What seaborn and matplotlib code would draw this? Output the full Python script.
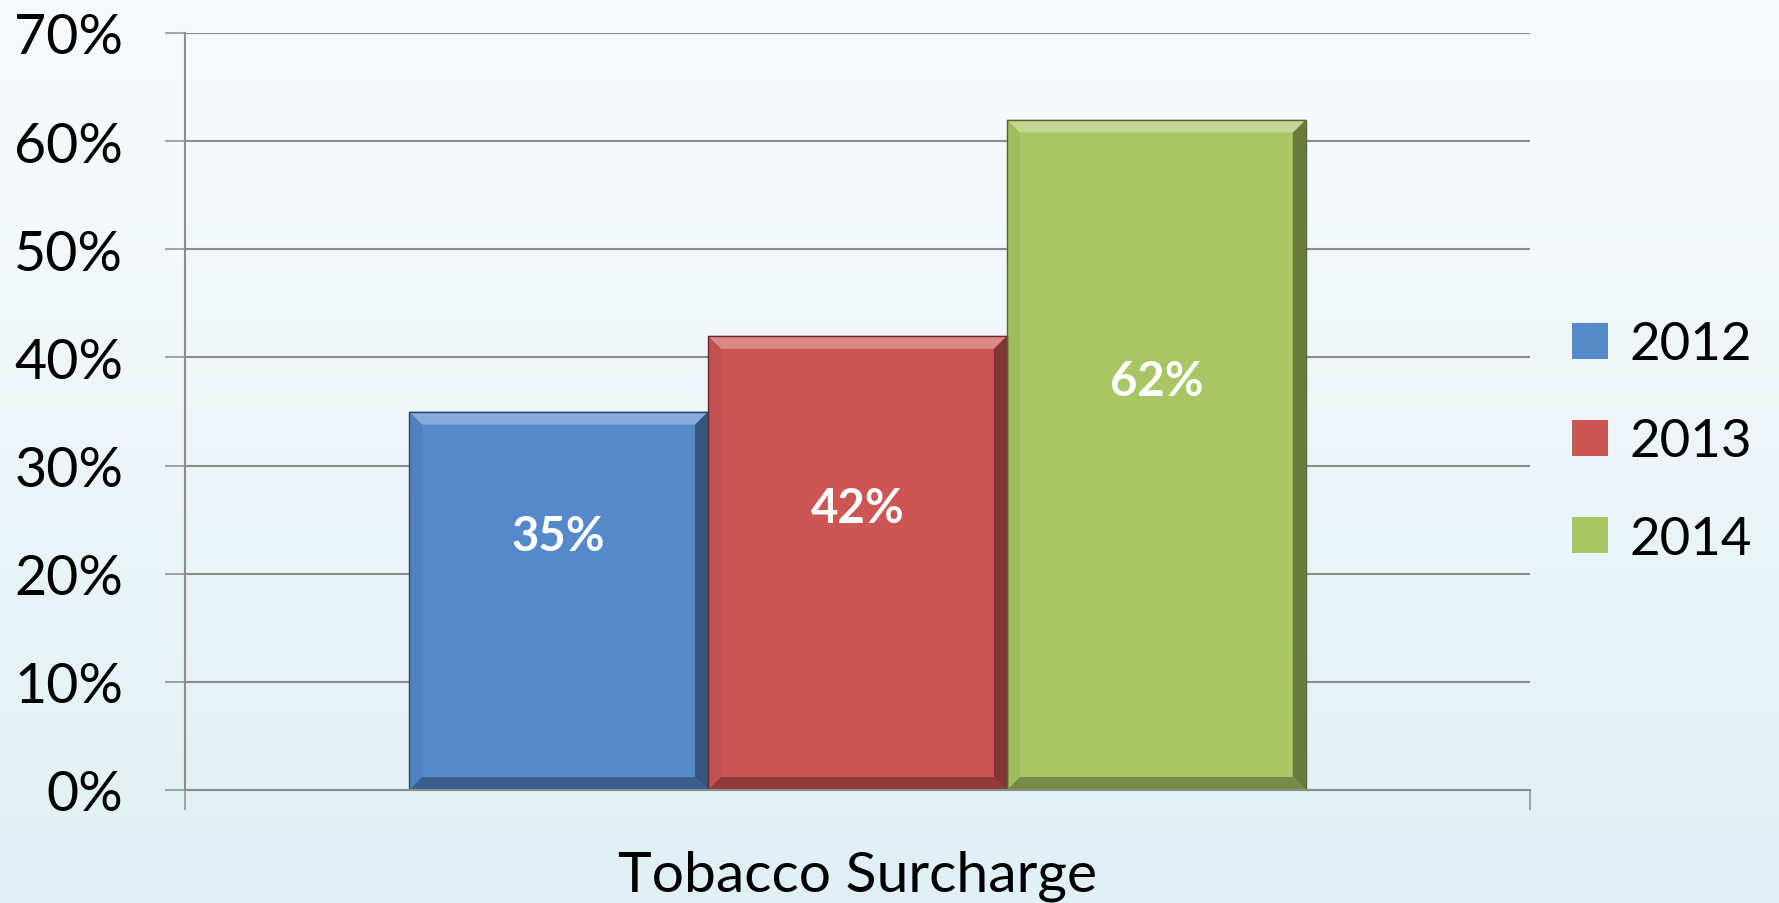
import numpy as np
import pandas as pd
import matplotlib
matplotlib.use("Agg")
import matplotlib.pyplot as plt
from matplotlib.patches import Polygon, Patch
import matplotlib.colors as mcolors
import seaborn as sns

# ---- data ----
category = ["Tobacco Surcharge"]
years = ["2012", "2013", "2014"]
values = [0.35, 0.42, 0.62]
value_labels = ["35%", "42%", "62%"]
label_frac = [0.67, 0.62, 0.61]   # where each label sits, as fraction of bar height
yticks = [0.0, 0.1, 0.2, 0.3, 0.4, 0.5, 0.6, 0.7]
ytick_labels = ["0%", "10%", "20%", "30%", "40%", "50%", "60%", "70%"]
colors = ["#5589C9", "#CD5553", "#A8C664"]

df = pd.DataFrame({"cat": category * len(years), "year": years, "value": values})

sns.set_theme(style="white")
FONT = ["Lato", "DejaVu Sans"]
plt.rcParams["font.family"] = FONT
plt.rcParams["text.color"] = "black"

W, H = 1779, 904
fig = plt.figure(figsize=(W / 100, H / 100), dpi=100)

# background gradient
bg = fig.add_axes([0, 0, 1, 1], zorder=-10)
grad = np.linspace(0, 1, 256).reshape(-1, 1)
top = np.array(mcolors.to_rgb("#F8FBFD"))
bot = np.array(mcolors.to_rgb("#E0F0F6"))
img = top[None, None, :] * (1 - grad[..., None]) + bot[None, None, :] * grad[..., None]
bg.imshow(img, aspect="auto", extent=[0, 1, 0, 1], origin="upper")
bg.axis("off")

left, right, bottom, topp = 185 / W, 1530 / W, 1 - 791 / H, 1 - 34 / H
ax = fig.add_axes([left, bottom, right - left, topp - bottom])
ax.patch.set_alpha(0)

sns.barplot(data=df, x="cat", y="value", hue="year", palette=colors,
            width=2 / 3, dodge=True, ax=ax, legend=False, saturation=1,
            edgecolor="none", linewidth=0)

ax.set_ylim(0, 0.7)
ax.set_xlim(-0.5, 0.5)
GRID = "#8C8C8C"
ax.set_yticks(yticks)
ax.set_yticklabels(ytick_labels)
ax.yaxis.grid(True, color=GRID, linewidth=1.5, zorder=0)
ax.set_axisbelow(True)
for s in ["top", "right"]:
    ax.spines[s].set_visible(False)
ax.spines["left"].set_color(GRID)
ax.spines["left"].set_linewidth(1.5)
ax.spines["bottom"].set_color(GRID)
ax.spines["bottom"].set_linewidth(1.5)
ax.tick_params(axis="y", direction="out", length=14.4, width=1.1, color=GRID,
               labelsize=40, pad=30, left=True)
ax.set_xticks([0])
ax.set_xticklabels(category)
ax.set_xticks([-0.5, 0.5], minor=True)
ax.tick_params(axis="x", which="major", length=0, labelsize=41, pad=43)
ax.tick_params(axis="x", which="minor", direction="out", length=14.4, width=1.1,
               color=GRID, bottom=True)
ax.set_xlabel("")
ax.set_ylabel("")
for t in ax.get_yticklabels() + ax.get_xticklabels():
    t.set_color("black")

# bevel effect derived from the drawn bars
fig.canvas.draw()
inv = ax.transData.inverted()
bars = sorted([p for p in ax.patches if p.get_height() > 0], key=lambda p: p.get_x())
bev_px = 13


def mix(c, other, a):
    c = np.array(mcolors.to_rgb(c)); o = np.array(mcolors.to_rgb(other))
    return tuple(c * (1 - a) + o * a)


for p, col, lab, fr in zip(bars, colors, value_labels, label_frac):
    x0, y0, w, h = p.get_x(), p.get_y(), p.get_width(), p.get_height()
    (X0, Y0) = ax.transData.transform((x0, y0))
    (X1, Y1) = ax.transData.transform((x0 + w, y0 + h))
    b = bev_px
    pts = {
        "top": [(X0, Y1), (X1, Y1), (X1 - b, Y1 - b), (X0 + b, Y1 - b)],
        "bottom": [(X0, Y0), (X1, Y0), (X1 - b, Y0 + b), (X0 + b, Y0 + b)],
        "left": [(X0, Y0), (X0, Y1), (X0 + b, Y1 - b), (X0 + b, Y0 + b)],
        "right": [(X1, Y0), (X1, Y1), (X1 - b, Y1 - b), (X1 - b, Y0 + b)],
    }
    shades = {"top": mix(col, "white", 0.3), "bottom": mix(col, "black", 0.3),
              "left": mix(col, "black", 0.05), "right": mix(col, "black", 0.38)}
    for k in ["left", "right", "top", "bottom"]:
        poly = Polygon(inv.transform(pts[k]), closed=True, facecolor=shades[k],
                       edgecolor="none", zorder=p.get_zorder() + 0.5)
        ax.add_patch(poly)
    ax.add_patch(Polygon(inv.transform([(X0, Y0), (X0, Y1), (X1, Y1), (X1, Y0)]),
                         closed=True, fill=False, edgecolor=mix(col, "black", 0.5),
                         linewidth=1.0, zorder=p.get_zorder() + 0.6))
    ax.text(x0 + w / 2, y0 + h * fr, lab, ha="center", va="center", color="white",
            fontsize=34, fontweight="bold", zorder=10, family=FONT)

handles = [Patch(facecolor=c, edgecolor="none") for c in colors]
leg = fig.legend(handles, years, loc="center left", bbox_to_anchor=(1572 / W, 1 - 443 / H),
                 frameon=False, fontsize=38, handlelength=0.68, handleheight=0.68,
                 handletextpad=0.4, labelspacing=0.95, borderaxespad=0, borderpad=0)
for t in leg.get_texts():
    t.set_color("black")

fig.savefig("out.png", dpi=100)
